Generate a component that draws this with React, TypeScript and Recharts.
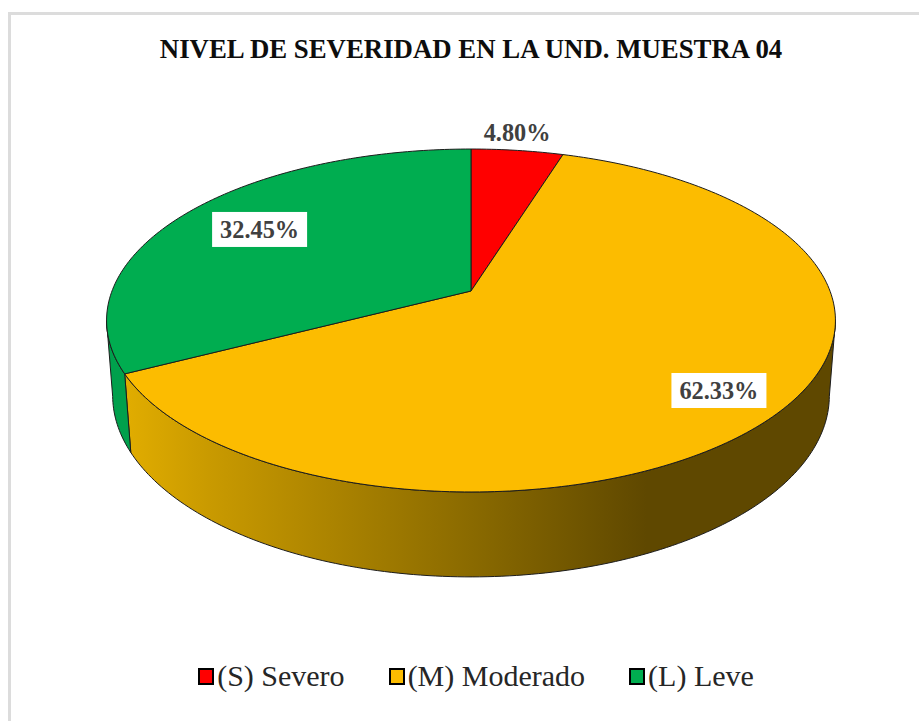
import { Legend, Pie, PieChart } from 'recharts';

const categories = ['(S) Severo', '(M) Moderado', '(L) Leve'];
const percents = [4.8, 62.33, 32.45];
const title = 'NIVEL DE SEVERIDAD EN LA UND. MUESTRA 04';

const topColors = ['#ff0000', '#fcbc00', '#00ad50'];
const wallFills = ['#cc0000', 'url(#wallGold)', '#00a04c'];
const serif = '"Liberation Serif", "Times New Roman", serif';

// perspective of the disc, fitted against the picture
const squash = 0.4635;
const tilt = 0.172;
const depthY = 0.209;
const depthW = 0.0165;
const wallFrom = 100;
const wallTo = 260;

// label placement: radius fraction, then a small nudge
const labelSpots = [
  { r: 1.15, dx: -6, dy: 0 },
  { r: 0.82, dx: 0, dy: 3 },
  { r: 0.72, dx: -4, dy: -3 },
];

const table = categories.map((name, i) => ({ name, value: percents[i], fill: topColors[i] }));

// clockwise degrees from 12 o'clock, h = 0 on the top face and 1 on the bottom rim
function project(cx: number, cy: number, R: number, deg: number, r = 1, h = 0) {
  const a = (deg * Math.PI) / 180;
  const u = Math.sin(a) * r;
  const v = -Math.cos(a) * r;
  const w = 1 - tilt * v + depthW * h;
  return {
    x: cx + (R * u) / w,
    y: cy + (R * squash * v + R * depthY * h) / w,
  };
}

function arc(cx: number, cy: number, R: number, from: number, to: number, h: number) {
  const n = Math.max(2, Math.ceil(Math.abs(to - from)));
  const pts = [];
  for (let i = 0; i <= n; i++) {
    const p = project(cx, cy, R, from + ((to - from) * i) / n, 1, h);
    pts.push(`${p.x.toFixed(2)} ${p.y.toFixed(2)}`);
  }
  return pts;
}

function DiscSlice(props: any) {
  const { cx, cy, outerRadius, startAngle, endAngle, fill, index } = props;
  const from = 90 - startAngle;
  const to = 90 - endAngle;
  const top = arc(cx, cy, outerRadius, from, to, 0);
  const wallA = Math.max(from, wallFrom);
  const wallB = Math.min(to, wallTo);
  return (
    <g>
      {wallB > wallA && (
        <path
          d={`M${[...arc(cx, cy, outerRadius, wallA, wallB, 0), ...arc(cx, cy, outerRadius, wallB, wallA, 1)].join('L')}Z`}
          fill={wallFills[index]}
          stroke="#1c1c1c"
          strokeWidth={1}
          strokeLinejoin="round"
        />
      )}
      <path
        d={`M${cx} ${cy}L${top.join('L')}Z`}
        fill={fill}
        stroke="#1c1c1c"
        strokeWidth={1}
        strokeLinejoin="round"
      />
    </g>
  );
}

function SliceLabel(props: any) {
  const { cx, cy, outerRadius, midAngle, value, index } = props;
  const spot = labelSpots[index];
  const p = project(cx, cy, outerRadius, 90 - midAngle, spot.r);
  const x = p.x + spot.dx;
  const y = p.y + spot.dy;
  return (
    <g>
      {index > 0 && <rect x={x - 47.5} y={y - 17.5} width={95} height={35} fill="#ffffff" />}
      <text
        x={x}
        y={y}
        textAnchor="middle"
        dominantBaseline="central"
        fontFamily={serif}
        fontWeight="bold"
        fontSize={24.3}
        fill="#404040"
      >
        {value.toFixed(2)}%
      </text>
    </g>
  );
}

function LegendRow({ payload }: any) {
  return (
    <div style={{ display: 'flex', justifyContent: 'center', gap: 44, fontFamily: serif, fontSize: 30, color: '#262626' }}>
      {(payload ?? []).map((item: any) => (
        <div key={item.value} style={{ display: 'flex', alignItems: 'center', gap: 3 }}>
          <span style={{ width: 12, height: 13, background: item.color, border: '2px solid #000' }} />
          <span>{item.value}</span>
        </div>
      ))}
    </div>
  );
}

export default function App() {
  return (
    <div style={{ position: 'absolute', left: 0, top: 0, width: 919, height: 722, background: '#fff', overflow: 'hidden' }}>
      <div
        style={{
          position: 'absolute',
          left: 8,
          top: 12,
          width: 911,
          height: 709,
          boxSizing: 'border-box',
          borderLeft: '3px solid #dcdcdc',
          borderTop: '3px solid #dcdcdc',
        }}
      />
      <PieChart
        width={919}
        height={722}
        margin={{ top: 0, right: 0, bottom: 0, left: 0 }}
        style={{ position: 'absolute', left: 0, top: 0 }}
      >
        <defs>
          <linearGradient id="wallGold" gradientUnits="userSpaceOnUse" x1={107} y1={0} x2={836} y2={0}>
            <stop offset="0.03" stopColor="#e0ac00" />
            <stop offset="0.14" stopColor="#c99a00" />
            <stop offset="0.5" stopColor="#8a6a00" />
            <stop offset="0.74" stopColor="#5f4800" />
            <stop offset="1" stopColor="#5f4800" />
          </linearGradient>
        </defs>
        <text x={471} y={49} textAnchor="middle" dominantBaseline="central" fontFamily={serif} fontWeight="bold" fontSize={26.8} fill="#0d0d0d">
          {title}
        </text>
        <Pie
          data={table}
          dataKey="value"
          nameKey="name"
          cx={471}
          cy={291}
          outerRadius={359}
          startAngle={90}
          endAngle={-270}
          shape={DiscSlice}
          label={SliceLabel}
          labelLine={false}
          isAnimationActive={false}
        />
        <Legend
          content={<LegendRow />}
          itemSorter={null}
          wrapperStyle={{ position: 'absolute', left: 0, top: 659, width: 952 }}
        />
      </PieChart>
    </div>
  );
}
